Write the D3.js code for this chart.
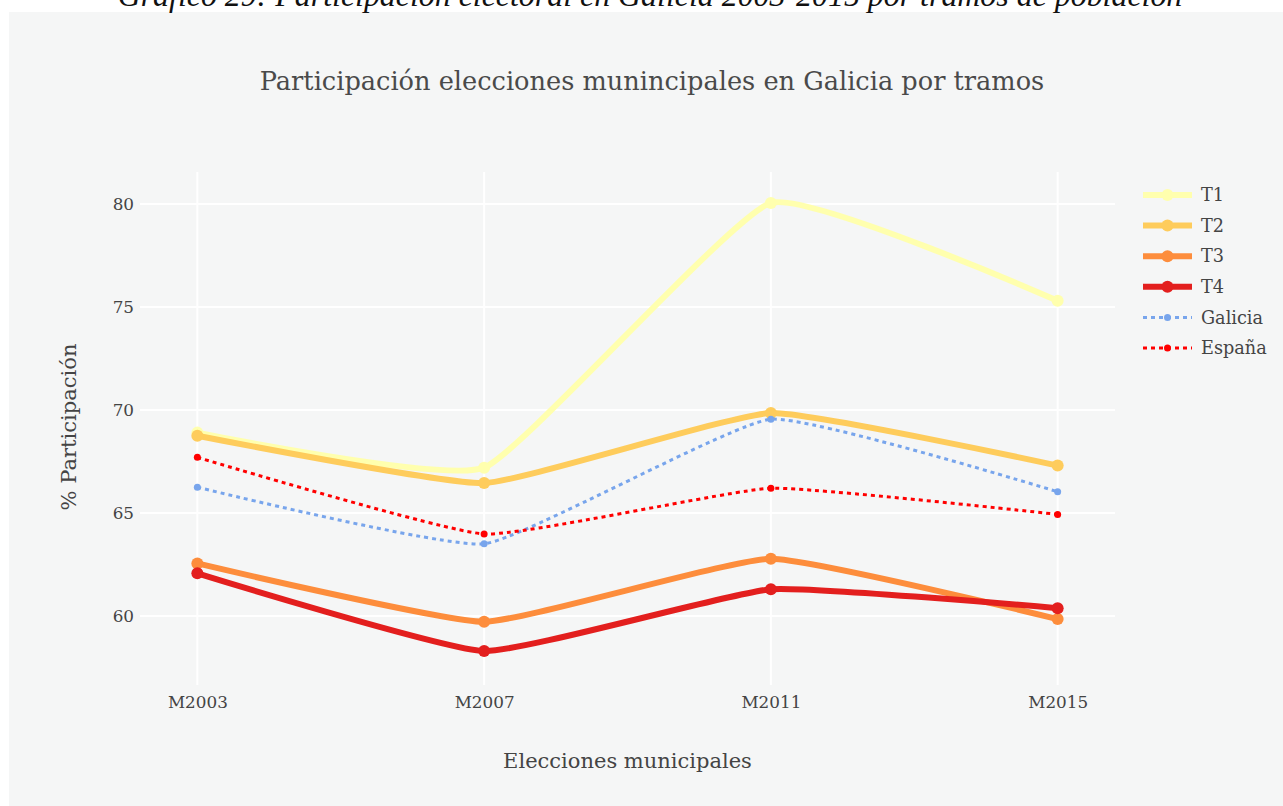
<!DOCTYPE html>
<html>
<head>
<meta charset="utf-8">
<script src="https://cdn.jsdelivr.net/npm/d3@7"></script>
<style>
  body { margin: 0; background: #ffffff; }
  svg text { font-family: "DejaVu Serif", "Liberation Serif", serif; fill: #444444; }
</style>
</head>
<body>
<div id="chart"></div>
<script>
// data
const elections = ["M2003", "M2007", "M2011", "M2015"];
const seriesNames = ["T1", "T2", "T3", "T4", "Galicia", "España"];
const t1 = [68.9, 67.2, 80.05, 75.3];
const t2 = [68.75, 66.45, 69.85, 67.3];
const t3 = [62.55, 59.72, 62.78, 59.85];
const t4 = [62.07, 58.3, 61.3, 60.38];
const galicia = [66.25, 63.5, 69.55, 66.03];
const espana = [67.7, 63.98, 66.2, 64.93];
const yTicks = [60, 65, 70, 75, 80];

const seriesValues = [t1, t2, t3, t4, galicia, espana];
const seriesColors = ["#ffffae", "#fecc5c", "#fd8d3c", "#e31f1e", "#78a5ec", "#ff0000"];

const width = 1283, height = 806;
const plot = { left: 140, right: 1115, top: 172, bottom: 685 };

const svg = d3.select("#chart").append("svg")
    .attr("width", width)
    .attr("height", height);

// fit a text element to a measured width by scaling its font size
function fitWidth(text, target) {
    const size = parseFloat(text.style("font-size"));
    const len = text.node().getComputedTextLength();
    text.style("font-size", (size * target / len) + "px");
}

// panel
svg.append("rect")
    .attr("x", 9).attr("y", 12)
    .attr("width", width - 9).attr("height", height - 12)
    .attr("fill", "#f5f6f6");

// caption, cut at the top of the picture as in the reference
const caption = svg.append("text")
    .attr("x", 650).attr("y", 6)
    .attr("text-anchor", "middle")
    .style("font-family", "'Liberation Serif', serif")
    .style("font-style", "italic")
    .style("font-size", "28px")
    .style("fill", "#111111")
    .text("Gráfico 29: Participación electoral en Galicia 2003-2015 por tramos de población");
fitWidth(caption, 1065);

const title = svg.append("text")
    .attr("x", 652).attr("y", 90)
    .attr("text-anchor", "middle")
    .style("font-size", "26px")
    .style("fill", "#4a4a4a")
    .text("Participación elecciones munincipales en Galicia por tramos");
fitWidth(title, 785);

const xScale = d3.scalePoint()
    .domain(elections)
    .range([plot.left, plot.right])
    .padding(0.2);

const yScale = d3.scaleLinear()
    .domain([56.65, 81.55])
    .range([plot.bottom, plot.top]);

// gridlines
svg.append("g")
    .selectAll("line")
    .data(elections)
    .join("line")
    .attr("x1", d => xScale(d)).attr("x2", d => xScale(d))
    .attr("y1", plot.top).attr("y2", plot.bottom)
    .attr("stroke", "#ffffff")
    .attr("stroke-width", 2);

svg.append("g")
    .selectAll("line")
    .data(yTicks)
    .join("line")
    .attr("x1", plot.left).attr("x2", plot.right)
    .attr("y1", d => yScale(d)).attr("y2", d => yScale(d))
    .attr("stroke", "#ffffff")
    .attr("stroke-width", 2);

// axes (labels only, no domain line or ticks)
const xAxis = svg.append("g")
    .attr("transform", "translate(0," + plot.bottom + ")")
    .call(d3.axisBottom(xScale).tickSize(0).tickPadding(0));
xAxis.select(".domain").remove();
xAxis.selectAll("text")
    .attr("y", 23)
    .attr("dy", 0)
    .style("font-size", "16px")
    .style("font-family", null);

const yAxis = svg.append("g")
    .attr("transform", "translate(" + plot.left + ",0)")
    .call(d3.axisLeft(yScale).tickValues(yTicks).tickSize(0).tickPadding(6));
yAxis.select(".domain").remove();
yAxis.selectAll("text")
    .attr("dy", "0.35em")
    .style("font-size", "16px")
    .style("font-family", null);

const sample = xAxis.select("text");
const tickScale = 60 / sample.node().getComputedTextLength();
svg.selectAll(".tick text").style("font-size", (16 * tickScale) + "px");

const xTitle = svg.append("text")
    .attr("x", (plot.left + plot.right) / 2).attr("y", 768)
    .attr("text-anchor", "middle")
    .style("font-size", "20px")
    .text("Elecciones municipales");
fitWidth(xTitle, 249);

const yTitle = svg.append("text")
    .attr("transform", "translate(76," + 427 + ") rotate(-90)")
    .attr("text-anchor", "middle")
    .style("font-size", "20px")
    .text("% Participación");
fitWidth(yTitle, 167);

// series, lightly smoothed like the reference spline
const line = d3.line()
    .x((d, i) => xScale(elections[i]))
    .y(d => yScale(d))
    .curve(d3.curveCardinal.tension(0.6));

const isDotted = i => i >= 4;
const dotDash = "4,4";

const traces = svg.append("g")
    .selectAll("g")
    .data(seriesValues)
    .join("g");

traces.append("path")
    .attr("d", d => line(d))
    .attr("fill", "none")
    .attr("stroke", (d, i) => seriesColors[i])
    .attr("stroke-width", (d, i) => isDotted(i) ? 3 : 6)
    .attr("stroke-dasharray", (d, i) => isDotted(i) ? dotDash : null);

traces.each(function (values, i) {
    d3.select(this).selectAll("circle")
        .data(values)
        .join("circle")
        .attr("cx", (d, j) => xScale(elections[j]))
        .attr("cy", d => yScale(d))
        .attr("r", isDotted(i) ? 3.5 : 6)
        .attr("fill", seriesColors[i]);
});

// legend
const legend = svg.append("g")
    .attr("transform", "translate(1143,195)");

const rows = legend.selectAll("g")
    .data(seriesNames)
    .join("g")
    .attr("transform", (d, i) => "translate(0," + (i * 30.6) + ")");

rows.append("line")
    .attr("x1", 0).attr("x2", 49)
    .attr("stroke", (d, i) => seriesColors[i])
    .attr("stroke-width", (d, i) => isDotted(i) ? 3 : 6)
    .attr("stroke-dasharray", (d, i) => isDotted(i) ? dotDash : null);

rows.append("circle")
    .attr("cx", 24.5)
    .attr("r", (d, i) => isDotted(i) ? 3.5 : 6)
    .attr("fill", (d, i) => seriesColors[i]);

const legendText = rows.append("text")
    .attr("x", 58)
    .attr("dy", "0.35em")
    .style("font-size", "16px")
    .text(d => d);

const galText = legendText.filter(d => d === "Galicia");
const legendScale = 62 / galText.node().getComputedTextLength();
legendText.style("font-size", (16 * legendScale) + "px");
</script>
</body>
</html>
